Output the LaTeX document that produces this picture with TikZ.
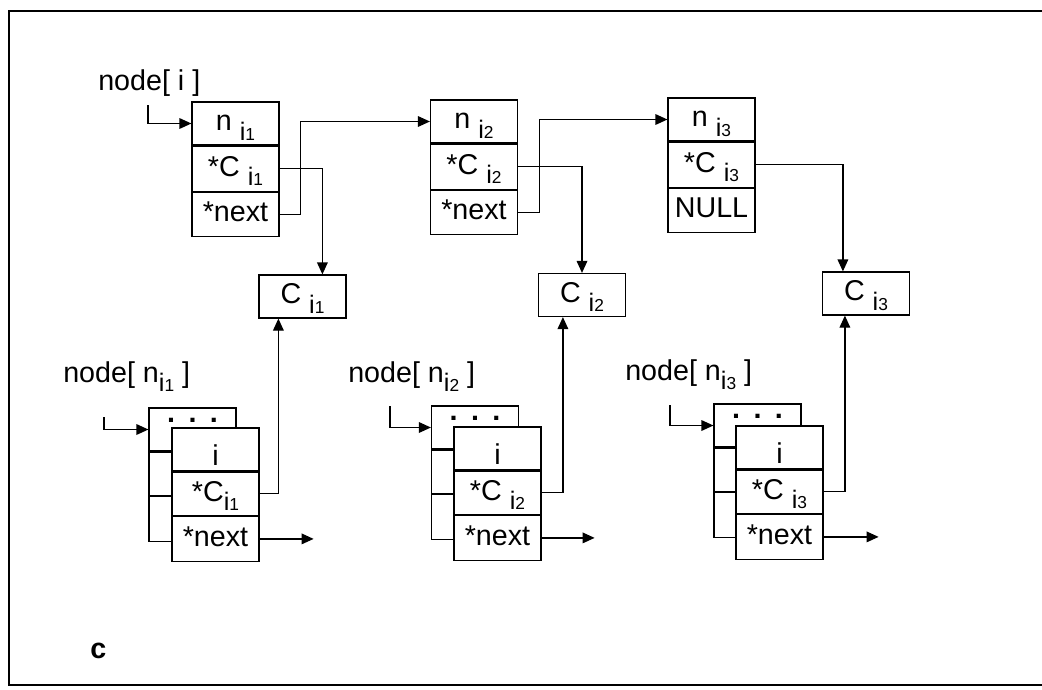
\documentclass[tikz,border=0pt]{standalone}
\usepackage{fontspec}
\setmainfont{Liberation Sans}
\usetikzlibrary{arrows.meta,calc}
\newcommand\sbs[1]{\raisebox{-7pt}{\fontsize{19}{19}\selectfont i\fontsize{13}{13}\selectfont #1}}
\newcommand\dotsrow{\raisebox{11pt}{\bfseries .\hspace{10pt}.\hspace{10pt}.}}
\begin{document}
\begin{tikzpicture}[x=0.75pt,y=-0.75pt,
  every node/.style={font=\fontsize{21.5}{24}\selectfont},
  cell/.style={draw, line width=0.9pt, fill=white, inner sep=0pt, minimum width=65.25pt, text height=11pt, text depth=0pt},
  ha/.style={minimum height=32.25pt},
  hb/.style={minimum height=33.75pt},
  hc/.style={minimum height=33pt},
  tall/.style={text height=24pt},
  link/.style={line width=0.9pt},
  arr/.style={link, -{Triangle[length=9pt,width=8pt]}},
  lbl/.style={anchor=base west, inner sep=0pt}]

\useasboundingbox (0,0) rectangle (1042,689);
\draw[line width=2pt] (1042,11) -- (9,11) -- (9,685) -- (1042,685);

% top list
\node[cell,ha] (n1a) at (235.5,123.5) {n \sbs{1}};
\node[cell,hb,anchor=north] (n1b) at (n1a.south) {*C \sbs{1}};
\node[cell,hc,anchor=north] (n1c) at (n1b.south) {*next};

\node[cell,ha] (n2a) at (474,121.5) {n \sbs{2}};
\node[cell,hb,anchor=north] (n2b) at (n2a.south) {*C \sbs{2}};
\node[cell,hc,anchor=north] (n2c) at (n2b.south) {*next};

\node[cell,ha] (n3a) at (711.5,119.5) {n \sbs{3}};
\node[cell,hb,anchor=north] (n3b) at (n3a.south) {*C \sbs{3}};
\node[cell,hc,anchor=north] (n3c) at (n3b.south) {NULL};

% C boxes
\node[cell,ha] (C1) at (302.5,296.5) {C \sbs{1}};
\node[cell,ha] (C2) at (582,295) {C \sbs{2}};
\node[cell,ha] (C3) at (866,293.5) {C \sbs{3}};

% back boxes
\node[cell,ha] (B1a) at (192.5,429.5) {\dotsrow};
\node[cell,ha,anchor=north] (B1b) at (B1a.south) {};
\node[cell,hb,anchor=north] (B1c) at (B1b.south) {};

\node[cell,ha] (B2a) at (475,427.5) {\dotsrow};
\node[cell,ha,anchor=north] (B2b) at (B2a.south) {};
\node[cell,hb,anchor=north] (B2c) at (B2b.south) {};

\node[cell,ha] (B3a) at (757.5,425.5) {\dotsrow};
\node[cell,ha,anchor=north] (B3b) at (B3a.south) {};
\node[cell,hb,anchor=north] (B3c) at (B3b.south) {};

% front boxes
\node[cell,ha,tall] (F1a) at (215.5,449.5) {i};
\node[cell,ha,anchor=north] (F1b) at (F1a.south) {*C\sbs{1}};
\node[cell,hb,anchor=north] (F1c) at (F1b.south) {*next};

\node[cell,ha,tall] (F2a) at (497.5,448.5) {i};
\node[cell,ha,anchor=north] (F2b) at (F2a.south) {*C \sbs{2}};
\node[cell,hb,anchor=north] (F2c) at (F2b.south) {*next};

\node[cell,ha,tall] (F3a) at (779.5,447.5) {i};
\node[cell,ha,anchor=north] (F3b) at (F3a.south) {*C \sbs{3}};
\node[cell,hb,anchor=north] (F3c) at (F3b.south) {*next};

% labels
\node[lbl] (L0) at (98,90) {node[ i ]};
\node[lbl] (L1) at (63,382) {node[ n\sbs{1} ]};
\node[lbl] (L2) at (348,382) {node[ n\sbs{2} ]};
\node[lbl] (L3) at (625,380) {node[ n\sbs{3} ]};
\node[lbl,font=\fontsize{21.5}{24}\selectfont\bfseries] (Lc) at (90,658) {c};

% connectors top
\coordinate (s1) at (148,105);
\draw[arr] (s1) |- (n1a.west);
\draw[arr] (n1b.east) -| ($(C1.north west)+(64,0)$);
\draw[arr] (n1c.east) -- ++(21,0) |- (n2a.west);
\draw[arr] (n2b.east) -| (C2.north);
\draw[arr] (n2c.east) -- ++(21,0) |- (n3a.west);
\draw[arr] (n3b.east) -| ($(C3.north west)+(21,0)$);

% connectors bottom
\coordinate (s2) at (104,417);
\draw[arr] (s2) |- (B1a.west);
\draw[arr] (F1b.east) -| ($(C1.south west)+(20,0)$);
\coordinate (t1) at ($(F1c.east)+(54,0)$);
\draw[arr] (F1c.east) -- (t1);

\coordinate (s3) at (390,406);
\draw[arr] (s3) |- (B2a.west);
\draw[arr] (F2b.east) -| ($(C2.south west)+(25,0)$);
\coordinate (t2) at ($(F2c.east)+(53,0)$);
\draw[arr] (F2c.east) -- (t2);

\coordinate (s4) at (670,405);
\draw[arr] (s4) |- (B3a.west);
\draw[arr] (F3b.east) -| ($(C3.south west)+(23,0)$);
\coordinate (t3) at ($(F3c.east)+(55,0)$);
\draw[arr] (F3c.east) -- (t3);
\end{tikzpicture}
\end{document}
